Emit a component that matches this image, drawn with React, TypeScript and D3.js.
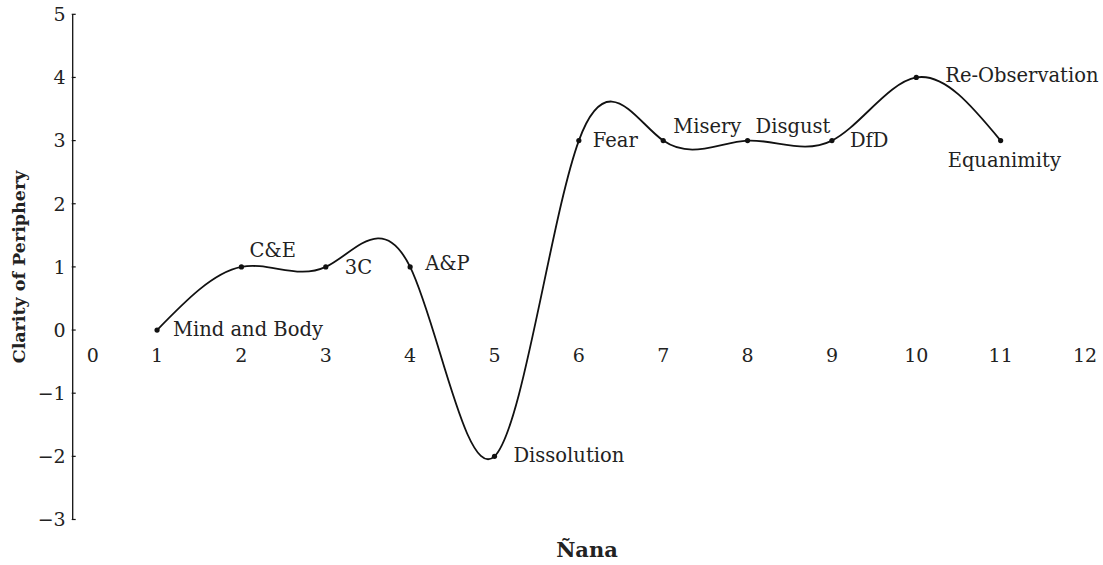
import { useMemo } from 'react';
import * as d3 from 'd3';

// Ñana stages and clarity of periphery
const stages = [1, 2, 3, 4, 5, 6, 7, 8, 9, 10, 11];
const clarity = [0, 1, 1, 1, -2, 3, 3, 3, 3, 4, 3];
const stageNames = [
  'Mind and Body', 'C&E', '3C', 'A&P', 'Dissolution', 'Fear',
  'Misery', 'Disgust', 'DfD', 'Re-Observation', 'Equanimity',
];
const xTicks = [0, 1, 2, 3, 4, 5, 6, 7, 8, 9, 10, 11, 12];
const yTicks = [-3, -2, -1, 0, 1, 2, 3, 4, 5];

const W = 1103;
const H = 565;
const FONT = '"DejaVu Serif", serif';

// label offset from its point (dx, dy of baseline)
const labelOffsets: [number, number][] = [
  [16, 6], [8, -10], [19, 7], [15, 3], [19, 6], [14, 6],
  [10, -8], [8, -8], [18, 6], [29, 5], [-53, 26],
];

const App = () => {
  const x = d3.scaleLinear().domain([0, 12]).range([72.7, 1085]);
  const y = d3.scaleLinear().domain([-3, 5]).range([519.5, 14.3]);

  const points = stages.map((s, i) => ({ s, v: clarity[i], name: stageNames[i] }));

  const path = useMemo(() => {
    const line = d3.line<{ s: number; v: number }>()
      .x(d => x(d.s))
      .y(d => y(d.v))
      .curve(d3.curveNatural);
    return line(points) || '';
  }, []);

  const axisX = x(0);

  return (
    <svg width={W} height={H} style={{ position: 'absolute', left: 0, top: 0, background: '#fff' }}
      fontFamily={FONT}>
      {/* y axis */}
      <line x1={axisX} x2={axisX} y1={y(5)} y2={y(-3)} stroke="#111" strokeWidth={1.3} />
      {yTicks.map(t => (
        <g key={t} transform={`translate(0,${y(t)})`}>
          <line x1={axisX - 1} x2={axisX + 3} stroke="#111" strokeWidth={1.2} />
          <text x={axisX - 7} dy="0.36em" textAnchor="end" fontSize={19} fill="#222">
            {t < 0 ? `\u2212${-t}` : t}
          </text>
        </g>
      ))}

      {/* x tick labels, no axis line */}
      {xTicks.map(t => (
        <text key={t} x={x(t) + (t === 0 ? 20 : 0)} y={362} textAnchor="middle" fontSize={19} fill="#222">
          {t}
        </text>
      ))}

      <path d={path} fill="none" stroke="#111" strokeWidth={1.8} />

      {points.map((p, i) => (
        <g key={p.name}>
          <circle cx={x(p.s)} cy={y(p.v)} r={2.6} fill="#111" />
          <text x={x(p.s) + labelOffsets[i][0]} y={y(p.v) + labelOffsets[i][1]} fontSize={19.5} fill="#222">
            {p.name}
          </text>
        </g>
      ))}

      {/* axis titles */}
      <text transform={`translate(25,267) rotate(-90)`} textAnchor="middle" fontSize={17.5}
        fontWeight="bold" fill="#222">
        Clarity of Periphery
      </text>
      <text x={587} y={557} textAnchor="middle" fontSize={21} fontWeight="bold" fill="#222">
        Ñana
      </text>
    </svg>
  );
};

export default App;
